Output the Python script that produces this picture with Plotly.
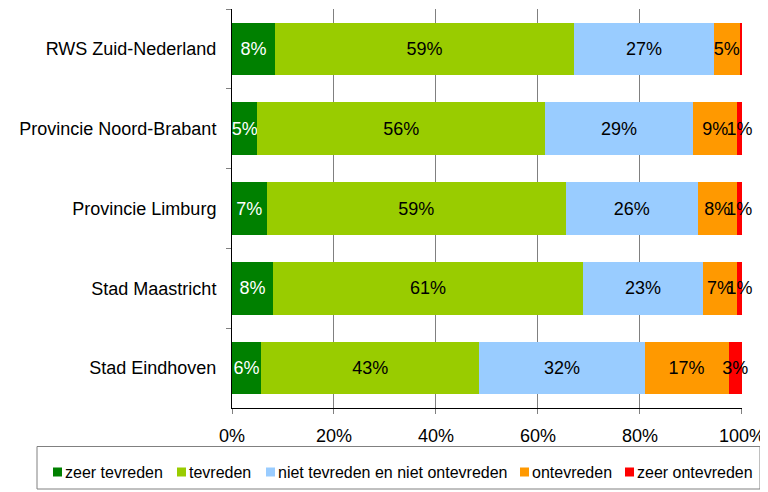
import plotly.graph_objects as go

categories = ["RWS Zuid-Nederland", "Provincie Noord-Brabant", "Provincie Limburg",
              "Stad Maastricht", "Stad Eindhoven"]
series_names = ["zeer tevreden", "tevreden", "niet tevreden en niet ontevreden",
                "ontevreden", "zeer ontevreden"]
zeer_tevreden = [8.4, 5.0, 6.8, 8.0, 5.7]
tevreden = [58.7, 56.4, 58.7, 60.9, 42.8]
neutraal = [27.4, 29.0, 25.8, 23.4, 32.4]
ontevreden = [5.1, 8.7, 7.7, 6.8, 16.5]
zeer_ontevreden = [0.4, 0.9, 1.0, 0.9, 2.6]

labels_zeer_tevreden = ["8%", "5%", "7%", "8%", "6%"]
labels_tevreden = ["59%", "56%", "59%", "61%", "43%"]
labels_neutraal = ["27%", "29%", "26%", "23%", "32%"]
labels_ontevreden = ["5%", "9%", "8%", "7%", "17%"]
labels_zeer_ontevreden = ["", "1%", "1%", "1%", "3%"]

tick_vals = [0, 20, 40, 60, 80, 100]
tick_text = ["0%", "20%", "40%", "60%", "80%", "100%"]

colors = ["#008000", "#99CC00", "#99CCFF", "#FF9900", "#FF0000"]
text_colors = ["#FFFFFF", "#000000", "#000000", "#000000", "#000000"]
values = [zeer_tevreden, tevreden, neutraal, ontevreden, zeer_ontevreden]
labels = [labels_zeer_tevreden, labels_tevreden, labels_neutraal,
          labels_ontevreden, labels_zeer_ontevreden]

font_family = "Liberation Sans, Arial, sans-serif"

# page geometry: the browser's default 8px body margin offsets the figure
OFF = 8
W, H = 768 - OFF, 492 - OFF
ML, MR, MT, MB = 232 - OFF, 26, 9 - OFF, 84
PW, PH = W - ML - MR, H - MT - MB


def px_x(px):
    """page pixel x -> paper coordinate"""
    return (px - OFF - ML) / PW


def px_y(py):
    """page pixel y -> paper coordinate"""
    return (H - MB - (py - OFF)) / PH


fig = go.Figure()
for name, vals, labs, col, tcol in zip(series_names, values, labels, colors, text_colors):
    fig.add_trace(go.Bar(
        y=categories, x=vals, name=name, orientation="h",
        marker=dict(color=col, line=dict(width=0)),
        text=labs, textposition="inside", insidetextanchor="middle",
        textangle=0, constraintext="none", cliponaxis=False,
        textfont=dict(color=tcol, size=18, family=font_family),
        hoverinfo="skip", showlegend=False,
    ))

# custom legend (box, swatches, labels)
legend_square_left = [53, 177, 266, 520, 625]
legend_square_size = 9
legend_center_y = 472
shapes = [dict(type="rect", xref="paper", yref="paper",
               x0=px_x(37), x1=px_x(760), y0=px_y(446.5), y1=px_y(489),
               line=dict(color="#808080", width=1), fillcolor="rgba(0,0,0,0)")]
annotations = []
for name, col, left in zip(series_names, colors, legend_square_left):
    shapes.append(dict(type="rect", xref="paper", yref="paper",
                       x0=px_x(left), x1=px_x(left + legend_square_size),
                       y0=px_y(legend_center_y + legend_square_size / 2),
                       y1=px_y(legend_center_y - legend_square_size / 2),
                       line=dict(width=0), fillcolor=col))
    annotations.append(dict(xref="paper", yref="paper",
                            x=px_x(left + legend_square_size + 1), y=px_y(legend_center_y),
                            xanchor="left", yanchor="middle", showarrow=False,
                            text=name, font=dict(size=16, family=font_family, color="#000000")))

fig.update_layout(
    barmode="stack",
    bargap=0.34,
    width=W, height=H,
    margin=dict(l=ML, r=MR, t=MT, b=MB),
    plot_bgcolor="white", paper_bgcolor="white",
    font=dict(family=font_family, color="#000000", size=18),
    uniformtext=dict(mode="show", minsize=18),
    showlegend=False,
    shapes=shapes,
    annotations=annotations,
    xaxis=dict(
        range=[0, 100.02], tickvals=tick_vals, ticktext=tick_text,
        showgrid=True, gridcolor="#808080", gridwidth=1,
        showline=True, linecolor="#000000", linewidth=1,
        ticks="outside", ticklen=5, tickcolor="#808080",
        tickfont=dict(size=18), zeroline=False, automargin=False,
        ticklabelstandoff=6,
    ),
    yaxis=dict(
        categoryorder="array", categoryarray=categories,
        autorange="reversed",
        showline=True, linecolor="#000000", linewidth=1,
        ticks="outside", ticklen=5, tickcolor="#808080",
        tickson="boundaries", ticklabelstandoff=11,
        tickfont=dict(size=18), showgrid=False, automargin=False,
    ),
)

fig.write_html("out.html")
